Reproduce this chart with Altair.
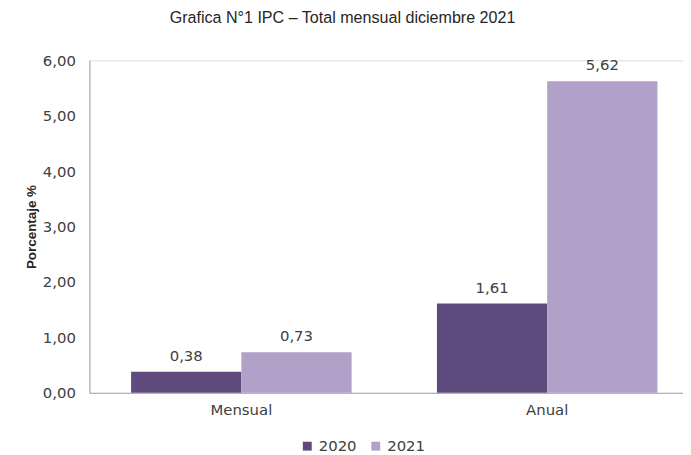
import altair as alt
import pandas as pd

categories = ["Mensual", "Mensual", "Anual", "Anual"]
years = ["2020", "2021", "2020", "2021"]
values = [0.38, 0.73, 1.61, 5.62]

df = pd.DataFrame({"cat": categories, "year": years, "val": values})

colors = ["#5e4a7c", "#b1a1c9"]
lab_font = "DejaVu Sans"

base = alt.Chart(df).encode(
    x=alt.X("cat:N", sort=["Mensual", "Anual"],
            scale=alt.Scale(paddingInner=0.279, paddingOuter=0.11, align=0.62),
            axis=alt.Axis(title=None, labelAngle=0, ticks=False, domainColor="#a6a6a6",
                          labelFontSize=15, labelColor="#404040", labelPadding=10,
                          labelFont=lab_font)),
    xOffset=alt.XOffset("year:N"),
)

bars = base.mark_bar().encode(
    y=alt.Y("val:Q", scale=alt.Scale(domain=[0, 6]),
            axis=alt.Axis(title="Porcentaje %", values=[0, 1, 2, 3, 4, 5, 6],
                          labelExpr="replace(format(datum.value, '.2f'), '.', ',')",
                          grid=False, ticks=False, domainColor="#a6a6a6",
                          labelFontSize=15, labelColor="#404040", labelPadding=14,
                          labelFont=lab_font,
                          titleFontSize=13.5, titleFont="Liberation Sans", titleColor="#262626",
                          titlePadding=4)),
    color=alt.Color("year:N", scale=alt.Scale(domain=["2020", "2021"], range=colors),
                    legend=alt.Legend(title=None, orient="none", direction="horizontal",
                                      legendX=212, legendY=381,
                                      symbolType="square", symbolSize=80,
                                      labelFontSize=15, labelColor="#404040",
                                      labelFont=lab_font, columnPadding=11, labelOffset=4,
                                      symbolStrokeWidth=0)),
)

labels = base.mark_text(dy=-16, fontSize=15, color="#404040", font=lab_font).encode(
    y="val:Q",
    text="lbl:N",
).transform_calculate(lbl="replace(format(datum.val, '.2f'), '.', ',')")

chart = alt.layer(bars, labels).properties(
    width=598, height=335,
    title=alt.TitleParams("Grafica N°1 IPC – Total mensual diciembre 2021",
                          font="Liberation Sans", fontSize=16.2,
                          fontWeight="normal", color="#262626", dx=-44, offset=27),
).configure_view(stroke=None).configure(padding={"left": 16, "top": 0, "right": 0, "bottom": 0})

chart.save("out.html", embed_options={"renderer": "svg", "actions": False})
